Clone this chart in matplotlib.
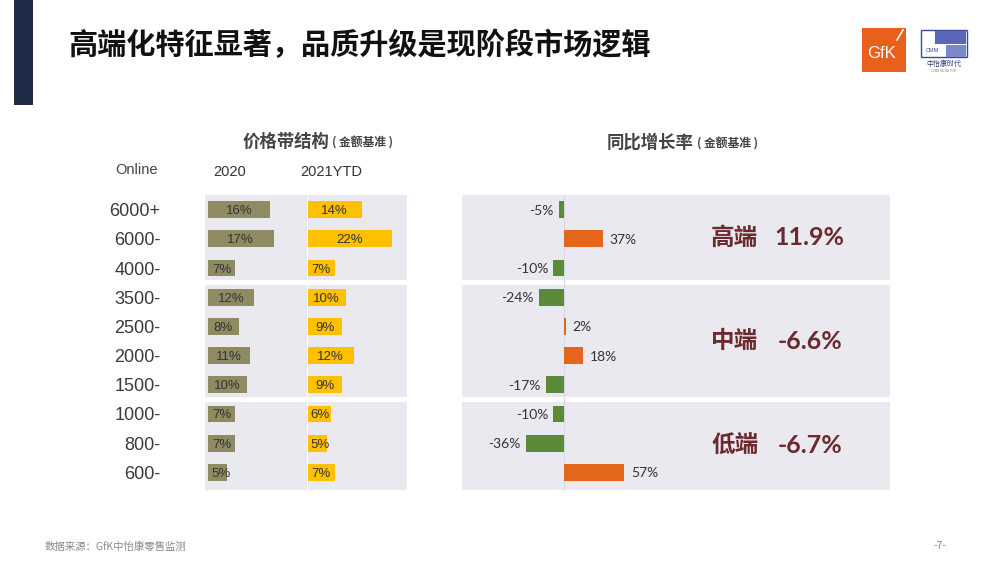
import matplotlib
matplotlib.use("Agg")
import matplotlib.pyplot as plt
from matplotlib.patches import Rectangle
from matplotlib.lines import Line2D

plt.rcParams['font.family'] = ['Noto Sans CJK SC', 'DejaVu Sans']

# ---------------- data ----------------
categories = ['6000+', '6000-', '4000-', '3500-', '2500-', '2000-', '1500-', '1000-', '800-', '600-']
share_2020 = [16, 17, 7, 12, 8, 11, 10, 7, 7, 5]
share_2021 = [14, 22, 7, 10, 9, 12, 9, 6, 5, 7]
growth = [-5, 37, -10, -24, 2, 18, -17, -10, -36, 57]
segments = ['高端', '中端', '低端']
segment_growth = ['11.9%', '-6.6%', '-6.7%']
segment_rows = [(0, 2), (3, 6), (7, 9)]
col_labels = ['2020', '2021YTD']

# ---------------- style ----------------
W, H = 1000, 563
BG = '#EBE9F0'
OLIVE = '#8E8B62'
GOLD = '#FFC000'
GREEN = '#5A8A3A'
ORANGE = '#E4661A'
MAROON = '#6B2A2E'
TXT = '#333333'
NUM = ['Lato', 'DejaVu Sans']
ARIAL = ['Liberation Sans', 'DejaVu Sans']

fig = plt.figure(figsize=(W / 100, H / 100), dpi=100)
fig.patch.set_facecolor('white')


def add_ax(x0, x1, y0, y1):
    return fig.add_axes([x0 / W, 1 - y1 / H, (x1 - x0) / W, (y1 - y0) / H])


def ftext(x, y, s, **kw):
    fig.text(x / W, 1 - y / H, s, **kw)


# left navy bar
fig.add_artist(Rectangle((14 / W, 1 - 105 / H), 19 / W, 105 / H, transform=fig.transFigure,
                         facecolor='#1F2B47', edgecolor='none'))

# title
ftext(68, 45, '高端化特征显著，品质升级是现阶段市场逻辑', fontsize=21, fontweight='heavy',
      color='#111111', va='center', ha='left')

# logos
fig.add_artist(Rectangle((862 / W, 1 - 72 / H), 44 / W, 44 / H, transform=fig.transFigure,
                         facecolor='#E8601C', edgecolor='none'))
fig.add_artist(Line2D([897 / W, 903 / W], [1 - 40 / H, 1 - 30 / H], transform=fig.transFigure,
                      color='white', lw=1.2))
ftext(882, 53, 'GfK', fontsize=12, color='white', ha='center', va='center', family=ARIAL)
fig.add_artist(Rectangle((921 / W, 1 - 57 / H), 46 / W, 27 / H, transform=fig.transFigure,
                         facecolor='white', edgecolor='#3B4A9A', lw=1.0))
fig.add_artist(Rectangle((935 / W, 1 - 44 / H), 31 / W, 13 / H, transform=fig.transFigure,
                         facecolor='#5A67B8', edgecolor='none'))
fig.add_artist(Rectangle((946 / W, 1 - 57 / H), 20 / W, 12 / H, transform=fig.transFigure,
                         facecolor='#7C88C8', edgecolor='none'))
ftext(932, 51, 'CMM', fontsize=4, color='#3B4A9A', ha='center', va='center', family=ARIAL)
ftext(944, 64, '中怡康时代', fontsize=5, color='#2B3A80', ha='center', va='center')
ftext(944, 71, 'CMM MONITOR', fontsize=2.5, color='#888888', ha='center', va='center', family=ARIAL)

# ---------------- geometry ----------------
Y_TOP, Y_BOT = 195, 490
ROW_PX = 29.2
ylim = (-0.5 + (Y_BOT - Y_TOP) / ROW_PX, -0.5)
PX_PER_PCT_L = 3.86
PX_PER_PCT_R = 1.06
bar_h = 0.58

group_spans = []
for i, (a, b) in enumerate(segment_rows):
    lo = a - 0.5 + (0.0 if i == 0 else 0.08)
    hi = b + 0.5 - (0.08 if i < len(segment_rows) - 1 else -0.1)
    group_spans.append((lo, hi))

rows = list(range(len(categories)))


def style_ax(ax):
    ax.set_ylim(*ylim)
    for s in ax.spines.values():
        s.set_visible(False)
    ax.set_xticks([])
    ax.set_facecolor('none')
    for lo, hi in group_spans:
        ax.axhspan(lo, hi, facecolor=BG, edgecolor='none', zorder=0)


# left column 1 (2020)
ax1 = add_ax(205, 306.5, Y_TOP, Y_BOT)
style_ax(ax1)
ax1.set_xlim(-3 / PX_PER_PCT_L, (306.5 - 208) / PX_PER_PCT_L)
ax1.barh(rows, share_2020, height=bar_h, color=OLIVE, zorder=2)
ax1.set_yticks(rows)
ax1.set_yticklabels(categories, fontsize=13, color='#3A3A3A', family=ARIAL)
ax1.tick_params(axis='y', length=0, pad=32)

# left column 2 (2021YTD)
ax2 = add_ax(307.5, 407, Y_TOP, Y_BOT)
style_ax(ax2)
ax2.set_xlim(0, (407 - 307.5) / PX_PER_PCT_L)
ax2.barh(rows, share_2021, height=bar_h, color=GOLD, zorder=2)
ax2.set_yticks([])

for ax, vals in ((ax1, share_2020), (ax2, share_2021)):
    for r, v in zip(rows, vals):
        ax.text(max(v / 2, 3.3), r, f'{v}%', ha='center', va='center_baseline', fontsize=9.5,
                color=TXT, family=ARIAL, zorder=3)

# right panel (growth)
ax3 = add_ax(462, 890, Y_TOP, Y_BOT)
style_ax(ax3)
ax3.set_xlim(-(564 - 462) / PX_PER_PCT_R, (890 - 564) / PX_PER_PCT_R)
colors = [GREEN if g < 0 else ORANGE for g in growth]
ax3.barh(rows, growth, height=bar_h, color=colors, zorder=2)
ax3.axvline(0, color='#D8D6DE', lw=0.8, zorder=1)
ax3.set_yticks([])
for r, g in zip(rows, growth):
    if g < 0:
        ax3.text(g - 5, r, f'{g}%', ha='right', va='center_baseline', fontsize=10, color=TXT,
                 family=NUM, zorder=3)
    else:
        ax3.text(g + 6, r, f'{g}%', ha='left', va='center_baseline', fontsize=10, color=TXT,
                 family=NUM, zorder=3)

for (lo, hi), name, val in zip(group_spans, segments, segment_growth):
    yc = (lo + hi) / 2
    ax3.text(161, yc, name, ha='center', va='center', fontsize=17, fontweight='bold',
             color=MAROON, zorder=3)
    ax3.text(232, yc, val, ha='center', va='center', fontsize=18, fontweight='bold',
             color=MAROON, family=NUM, zorder=3)

# headers
ftext(243, 142, '价格带结构', fontsize=12.5, fontweight='bold', color='#444444', va='center', ha='left')
ftext(332, 143, '( 金额基准 )', fontsize=8.5, fontweight='bold', color='#444444', va='center', ha='left')
ftext(607, 143, '同比增长率', fontsize=12.5, fontweight='bold', color='#444444', va='center', ha='left')
ftext(697, 144, '( 金额基准 )', fontsize=8.5, fontweight='bold', color='#444444', va='center', ha='left')
ftext(136, 170, 'Online', fontsize=10.5, color='#444444', va='center', ha='center', family=ARIAL)
ftext(230, 172, col_labels[0], fontsize=10.5, color='#333333', va='center', ha='center', family=ARIAL)
ftext(331, 172, col_labels[1], fontsize=10.5, color='#333333', va='center', ha='center', family=ARIAL)

# footer
ftext(45, 546, '数据来源：GfK中怡康零售监测', fontsize=7.5, color='#8A8A8A', va='center', ha='left')
ftext(940, 546, '-7-', fontsize=7.5, color='#8A8A8A', va='center', ha='center')

fig.savefig('out.png', dpi=100, facecolor='white')
